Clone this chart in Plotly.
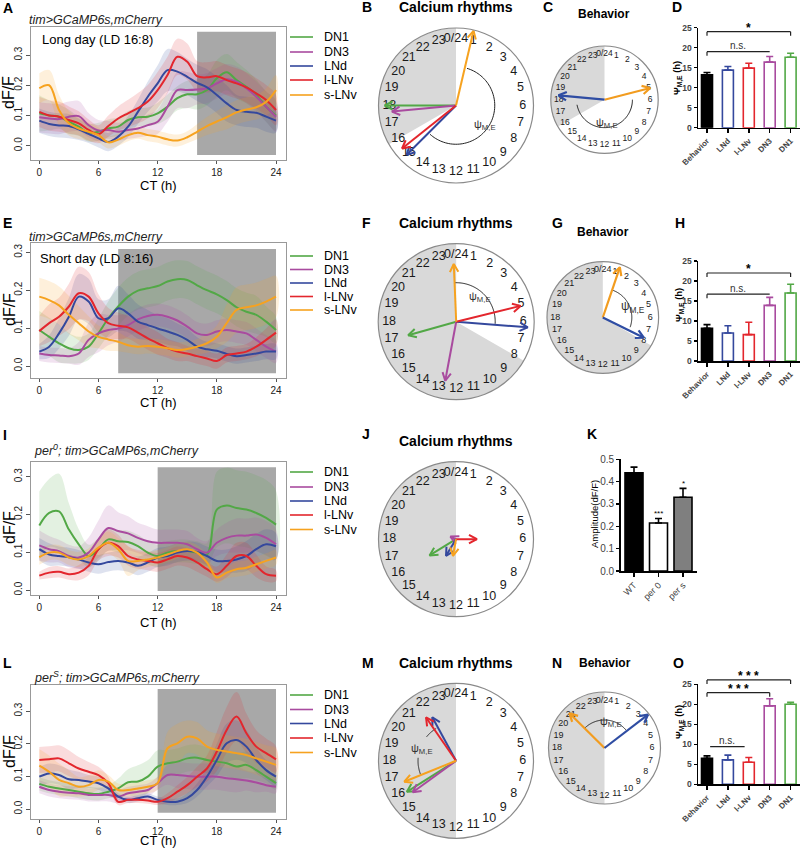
import numpy as np
import plotly.graph_objects as go

W, H = 800, 848
FONT = "Liberation Sans, Arial, sans-serif"

CT = list(range(25))
CELLS = ["DN1", "DN3", "LNd", "l-LNv", "s-LNv"]
CELL_COLORS = ["#52a846", "#a94b9f", "#34489d", "#e3262d", "#f6a21f"]

# ---------------- A : long day ----------------
LONG_DN1 = [0.107, 0.100, 0.096, 0.079, 0.063, 0.043, 0.046, 0.057, 0.063, 0.085, 0.094, 0.096, 0.107, 0.129, 0.157, 0.170, 0.170, 0.184, 0.223, 0.243, 0.217, 0.195, 0.168, 0.129, 0.100]
LONG_DN3 = [0.094, 0.090, 0.088, 0.096, 0.098, 0.068, 0.050, 0.052, 0.046, 0.052, 0.057, 0.068, 0.079, 0.129, 0.184, 0.184, 0.186, 0.190, 0.206, 0.220, 0.212, 0.190, 0.162, 0.129, 0.096]
LONG_LND = [0.083, 0.072, 0.067, 0.065, 0.054, 0.039, 0.024, 0.012, 0.030, 0.063, 0.112, 0.162, 0.206, 0.250, 0.245, 0.228, 0.208, 0.193, 0.168, 0.140, 0.118, 0.112, 0.109, 0.096, 0.083]
LONG_LLNV = [0.112, 0.100, 0.096, 0.085, 0.074, 0.052, 0.038, 0.065, 0.090, 0.107, 0.124, 0.146, 0.184, 0.234, 0.294, 0.278, 0.230, 0.226, 0.230, 0.217, 0.206, 0.193, 0.173, 0.151, 0.118]
LONG_SLNV = [0.190, 0.200, 0.118, 0.074, 0.057, 0.046, 0.035, 0.011, 0.020, 0.035, 0.043, 0.035, 0.030, 0.021, 0.017, 0.028, 0.046, 0.065, 0.080, 0.094, 0.110, 0.120, 0.127, 0.145, 0.184]
LONG_DN1_SEM = [0.06, 0.05, 0.04, 0.04, 0.03, 0.03, 0.03, 0.03, 0.03, 0.03, 0.03, 0.03, 0.035, 0.04, 0.04, 0.045, 0.05, 0.05, 0.06, 0.06, 0.06, 0.055, 0.05, 0.05, 0.05]
LONG_DN3_SEM = [0.05, 0.05, 0.05, 0.05, 0.05, 0.04, 0.035, 0.03, 0.03, 0.03, 0.03, 0.035, 0.04, 0.05, 0.06, 0.06, 0.05, 0.05, 0.05, 0.05, 0.05, 0.05, 0.05, 0.05, 0.05]
LONG_LND_SEM = [0.04, 0.04, 0.04, 0.04, 0.035, 0.03, 0.03, 0.03, 0.03, 0.035, 0.04, 0.05, 0.06, 0.07, 0.065, 0.06, 0.06, 0.06, 0.06, 0.06, 0.05, 0.05, 0.05, 0.05, 0.04]
LONG_LLNV_SEM = [0.05, 0.05, 0.05, 0.045, 0.04, 0.035, 0.03, 0.035, 0.04, 0.045, 0.05, 0.055, 0.06, 0.06, 0.06, 0.06, 0.05, 0.05, 0.05, 0.05, 0.05, 0.05, 0.05, 0.05, 0.05]
LONG_SLNV_SEM = [0.05, 0.05, 0.05, 0.04, 0.035, 0.03, 0.025, 0.02, 0.02, 0.02, 0.02, 0.02, 0.02, 0.02, 0.02, 0.02, 0.025, 0.03, 0.035, 0.04, 0.04, 0.04, 0.04, 0.045, 0.05]

# ---------------- E : short day ----------------
SHORT_DN1 = [0.095, 0.077, 0.060, 0.047, 0.042, 0.051, 0.086, 0.126, 0.157, 0.183, 0.199, 0.205, 0.211, 0.223, 0.229, 0.227, 0.213, 0.200, 0.189, 0.174, 0.155, 0.143, 0.135, 0.117, 0.095]
SHORT_DN3 = [0.033, 0.029, 0.028, 0.026, 0.033, 0.069, 0.086, 0.095, 0.099, 0.108, 0.123, 0.132, 0.135, 0.130, 0.120, 0.104, 0.086, 0.082, 0.091, 0.095, 0.091, 0.086, 0.069, 0.051, 0.038]
SHORT_LND = [0.038, 0.051, 0.086, 0.130, 0.183, 0.170, 0.126, 0.126, 0.152, 0.139, 0.117, 0.108, 0.099, 0.091, 0.082, 0.069, 0.051, 0.044, 0.040, 0.032, 0.026, 0.029, 0.033, 0.038, 0.038]
SHORT_LLNV = [0.092, 0.113, 0.130, 0.157, 0.192, 0.183, 0.139, 0.113, 0.106, 0.102, 0.088, 0.073, 0.060, 0.047, 0.038, 0.033, 0.026, 0.020, 0.013, 0.029, 0.033, 0.038, 0.051, 0.069, 0.088]
SHORT_SLNV = [0.183, 0.174, 0.160, 0.135, 0.113, 0.091, 0.077, 0.070, 0.064, 0.055, 0.051, 0.053, 0.051, 0.047, 0.042, 0.045, 0.051, 0.060, 0.077, 0.113, 0.148, 0.155, 0.160, 0.170, 0.183]
SHORT_DN1_SEM = [0.05, 0.05, 0.05, 0.04, 0.035, 0.035, 0.04, 0.045, 0.05, 0.05, 0.05, 0.05, 0.05, 0.05, 0.05, 0.05, 0.05, 0.05, 0.05, 0.05, 0.05, 0.05, 0.05, 0.04, 0.035]
SHORT_DN3_SEM = [0.02, 0.02, 0.02, 0.02, 0.03, 0.045, 0.05, 0.04, 0.035, 0.03, 0.03, 0.03, 0.03, 0.03, 0.03, 0.03, 0.03, 0.03, 0.03, 0.03, 0.03, 0.03, 0.03, 0.03, 0.03]
SHORT_LND_SEM = [0.02, 0.03, 0.04, 0.05, 0.06, 0.06, 0.05, 0.05, 0.06, 0.05, 0.045, 0.04, 0.035, 0.035, 0.03, 0.03, 0.025, 0.02, 0.02, 0.02, 0.02, 0.02, 0.02, 0.02, 0.02]
SHORT_LLNV_SEM = [0.04, 0.05, 0.05, 0.06, 0.07, 0.065, 0.05, 0.04, 0.035, 0.03, 0.03, 0.03, 0.03, 0.025, 0.025, 0.02, 0.02, 0.02, 0.02, 0.02, 0.02, 0.02, 0.025, 0.03, 0.035]
SHORT_SLNV_SEM = [0.05, 0.05, 0.05, 0.05, 0.045, 0.04, 0.03, 0.03, 0.025, 0.02, 0.02, 0.02, 0.02, 0.02, 0.02, 0.02, 0.02, 0.025, 0.03, 0.05, 0.06, 0.06, 0.06, 0.06, 0.055]

# ---------------- I : per0 ----------------
PER0_DN1 = [0.171, 0.204, 0.208, 0.160, 0.121, 0.090, 0.108, 0.134, 0.129, 0.127, 0.116, 0.099, 0.090, 0.099, 0.103, 0.103, 0.099, 0.094, 0.213, 0.224, 0.217, 0.213, 0.204, 0.191, 0.173]
PER0_DN3 = [0.118, 0.108, 0.103, 0.090, 0.086, 0.099, 0.134, 0.164, 0.156, 0.150, 0.138, 0.129, 0.125, 0.125, 0.125, 0.121, 0.108, 0.099, 0.125, 0.138, 0.144, 0.144, 0.147, 0.138, 0.121]
PER0_LND = [0.108, 0.094, 0.090, 0.087, 0.081, 0.073, 0.068, 0.074, 0.077, 0.073, 0.064, 0.073, 0.086, 0.090, 0.099, 0.103, 0.101, 0.090, 0.077, 0.077, 0.081, 0.090, 0.108, 0.121, 0.116]
PER0_LLNV = [0.038, 0.046, 0.048, 0.042, 0.046, 0.064, 0.108, 0.125, 0.116, 0.090, 0.081, 0.077, 0.073, 0.081, 0.090, 0.086, 0.073, 0.055, 0.042, 0.064, 0.090, 0.090, 0.064, 0.042, 0.038]
PER0_SLNV = [0.087, 0.099, 0.099, 0.086, 0.081, 0.090, 0.112, 0.125, 0.108, 0.077, 0.077, 0.081, 0.086, 0.094, 0.103, 0.108, 0.099, 0.073, 0.033, 0.046, 0.055, 0.059, 0.068, 0.077, 0.086]
PER0_DN1_SEM = [0.09, 0.09, 0.10, 0.07, 0.04, 0.03, 0.03, 0.03, 0.03, 0.03, 0.03, 0.03, 0.03, 0.03, 0.03, 0.03, 0.03, 0.03, 0.10, 0.10, 0.10, 0.10, 0.10, 0.10, 0.09]
PER0_DN3_SEM = [0.04, 0.035, 0.03, 0.03, 0.03, 0.04, 0.05, 0.06, 0.05, 0.045, 0.04, 0.04, 0.035, 0.035, 0.035, 0.035, 0.03, 0.03, 0.035, 0.04, 0.045, 0.045, 0.045, 0.045, 0.04]
PER0_LND_SEM = [0.03, 0.03, 0.025, 0.025, 0.025, 0.025, 0.025, 0.025, 0.025, 0.025, 0.025, 0.025, 0.025, 0.025, 0.025, 0.025, 0.025, 0.025, 0.03, 0.03, 0.035, 0.04, 0.04, 0.04, 0.035]
PER0_LLNV_SEM = [0.01, 0.015, 0.015, 0.015, 0.02, 0.025, 0.03, 0.035, 0.03, 0.025, 0.025, 0.025, 0.025, 0.025, 0.025, 0.025, 0.025, 0.02, 0.02, 0.03, 0.035, 0.035, 0.03, 0.02, 0.015]
PER0_SLNV_SEM = [0.02, 0.02, 0.02, 0.02, 0.02, 0.02, 0.025, 0.03, 0.03, 0.04, 0.025, 0.02, 0.02, 0.02, 0.02, 0.02, 0.02, 0.02, 0.015, 0.015, 0.02, 0.02, 0.02, 0.02, 0.02]

# ---------------- L : perS ----------------
PERS_DN1 = [0.077, 0.068, 0.063, 0.058, 0.053, 0.048, 0.046, 0.053, 0.063, 0.082, 0.084, 0.099, 0.130, 0.140, 0.145, 0.155, 0.157, 0.150, 0.145, 0.140, 0.130, 0.135, 0.119, 0.099, 0.079]
PERS_DN3 = [0.068, 0.058, 0.053, 0.050, 0.048, 0.043, 0.043, 0.043, 0.038, 0.048, 0.053, 0.058, 0.079, 0.104, 0.104, 0.101, 0.099, 0.099, 0.099, 0.094, 0.091, 0.087, 0.081, 0.073, 0.068]
PERS_LND = [0.099, 0.109, 0.104, 0.091, 0.089, 0.084, 0.079, 0.063, 0.038, 0.028, 0.033, 0.038, 0.028, 0.022, 0.022, 0.033, 0.058, 0.099, 0.150, 0.201, 0.211, 0.191, 0.150, 0.119, 0.099]
PERS_LLNV = [0.150, 0.152, 0.155, 0.140, 0.124, 0.114, 0.104, 0.079, 0.022, 0.028, 0.028, 0.026, 0.022, 0.033, 0.053, 0.073, 0.099, 0.124, 0.176, 0.242, 0.283, 0.232, 0.191, 0.171, 0.152]
PERS_SLNV = [0.133, 0.114, 0.089, 0.079, 0.068, 0.073, 0.089, 0.084, 0.058, 0.058, 0.063, 0.068, 0.079, 0.186, 0.201, 0.221, 0.216, 0.191, 0.181, 0.176, 0.171, 0.165, 0.155, 0.145, 0.135]
PERS_DN1_SEM = [0.02, 0.02, 0.02, 0.02, 0.02, 0.02, 0.02, 0.02, 0.03, 0.04, 0.05, 0.05, 0.05, 0.04, 0.04, 0.04, 0.04, 0.04, 0.04, 0.04, 0.04, 0.04, 0.03, 0.02, 0.02]
PERS_DN3_SEM = [0.02, 0.02, 0.02, 0.02, 0.02, 0.02, 0.02, 0.02, 0.02, 0.02, 0.02, 0.02, 0.02, 0.03, 0.04, 0.04, 0.04, 0.04, 0.04, 0.04, 0.04, 0.03, 0.03, 0.02, 0.02]
PERS_LND_SEM = [0.03, 0.03, 0.03, 0.03, 0.025, 0.02, 0.02, 0.02, 0.01, 0.01, 0.01, 0.01, 0.01, 0.01, 0.01, 0.015, 0.02, 0.03, 0.05, 0.06, 0.06, 0.05, 0.04, 0.03, 0.03]
PERS_LLNV_SEM = [0.04, 0.04, 0.04, 0.04, 0.035, 0.03, 0.025, 0.02, 0.01, 0.01, 0.01, 0.01, 0.01, 0.015, 0.02, 0.025, 0.03, 0.04, 0.06, 0.07, 0.075, 0.06, 0.05, 0.045, 0.04]
PERS_SLNV_SEM = [0.05, 0.05, 0.05, 0.04, 0.03, 0.03, 0.03, 0.02, 0.02, 0.02, 0.02, 0.02, 0.02, 0.05, 0.06, 0.05, 0.05, 0.05, 0.05, 0.05, 0.05, 0.05, 0.05, 0.05, 0.05]

# ---------------- circular phase plots (hours, vector length) ----------------
B_PHASE = {"DN1": 18.0, "DN3": 17.64, "LNd": 15.0, "l-LNv": 15.43, "s-LNv": 0.88}
B_LEN = {"DN1": 0.92, "DN3": 0.83, "LNd": 0.90, "l-LNv": 0.89, "s-LNv": 0.99}
B_DOTS = {"DN1": [20.0, 18.25, 17.0, 17.05], "DN3": [20.9, 20.03, 15.47, 15.2, 15.3],
          "LNd": [17.95, 17.13, 14.2, 13.9, 13.8], "l-LNv": [18.8, 17.27, 13.5, 12.5],
          "s-LNv": [0.33, 0.92, 0.95, 1.64]}
B_ARC = [(1.1, 14.8)]

F_PHASE = {"DN1": 16.95, "DN3": 12.7, "LNd": 6.3, "l-LNv": 5.08, "s-LNv": 23.84}
F_LEN = {"DN1": 0.64, "DN3": 0.77, "LNd": 0.92, "l-LNv": 0.85, "s-LNv": 0.74}
F_DOTS = {"DN1": [23.15, 19.56, 18.0, 16.27, 13.38, 12.9], "DN3": [19.4, 12.2, 12.05, 11.9, 10.07],
          "LNd": [4.2, 5.0, 5.6, 6.3, 8.8, 8.5], "l-LNv": [2.27, 4.0, 4.7, 6.85, 9.06],
          "s-LNv": [22.84, 1.0, 1.65, 2.13, 18.1]}
F_ARC = [(23.9, 6.2)]

J_PHASE = {"DN1": 15.9, "DN3": 19.7, "LNd": 14.07, "l-LNv": 6.0, "s-LNv": 12.68}
J_LEN = {"DN1": 0.40, "DN3": 0.08, "LNd": 0.25, "l-LNv": 0.27, "s-LNv": 0.22}
J_DOTS = {"DN1": [19.46, 8.47, 13.2], "DN3": [23.7, 0.49, 16.37, 10.24, 13.0],
          "LNd": [22.4, 9.5, 12.8, 12.6], "l-LNv": [21.7, 20.8, 7.36, 7.6, 8.9],
          "s-LNv": [2.23, 19.08, 11.8, 11.3]}

M_PHASE = {"DN1": 15.85, "DN3": 15.6, "LNd": 22.1, "l-LNv": 21.69, "s-LNv": 16.53}
M_LEN = {"DN1": 0.75, "DN3": 0.69, "LNd": 0.64, "l-LNv": 0.68, "s-LNv": 0.72}
M_DOTS = {"DN1": [19.3, 19.4, 19.2, 18.3, 14.5, 14.4, 11.4], "DN3": [17.4, 17.3, 15.0, 14.8, 10.3],
          "LNd": [22.93, 22.1, 21.5, 20.6, 18.4, 1.5, 2.2, 5.7], "l-LNv": [22.9, 1.9, 3.2, 19.3],
          "s-LNv": [20.1, 20.2, 18.7, 13.8, 13.5]}
M_ARC = [(16.6, 18.3), (20.6, 21.9)]

# behaviour: morning (orange) / evening (blue) peaks
BEH_COLORS = {"M": "#f29c1f", "E": "#2f4da3"}
C_PHASE = {"M": 5.04, "E": 18.36}
C_LEN = {"M": 0.88, "E": 0.86}
C_DOTS = {"M": [2.3, 3.0, 3.6, 4.3, 4.95, 5.6, 5.9, 6.8, 9.4, 10.7],
          "E": [21.9, 22.3, 22.7, 18.9, 18.7, 18.4, 18.0, 16.8, 16.2]}
C_ARC = [(6.0, 17.3)]

G_PHASE = {"M": 1.25, "E": 7.75}
G_LEN = {"M": 0.95, "E": 0.82}
G_DOTS = {"M": [0.31, 1.27, 2.3, 3.2], "E": [3.9, 5.2, 5.7, 7.3, 9.4, 10.9, 10.6]}
G_ARC = [(1.3, 7.3)]

N_PHASE = {"M": 20.98, "E": 3.5}
N_LEN = {"M": 0.88, "E": 0.98}
N_DOTS = {"M": [23.3, 0.1, 21.8, 20.8, 19.2, 19.3], "E": [2.2, 2.95, 3.2, 3.35, 3.5, 3.9, 5.7]}
N_ARC = [(20.9, 3.4)]

# ---------------- bar charts ----------------
PSI_CATS = ["Behavior", "LNd", "l-LNv", "DN3", "DN1"]
PSI_FILL = ["black", "white", "white", "white", "white"]
PSI_EDGE = ["black", "#34489d", "#e3262d", "#a94b9f", "#52a846"]
D_PSI = [13.2, 14.4, 14.9, 16.4, 17.6]
D_SEM = [0.6, 0.9, 1.2, 1.4, 1.0]
H_PSI = [8.2, 7.0, 6.6, 13.9, 17.0]
H_SEM = [0.9, 1.8, 3.1, 2.0, 2.2]
O_PSI = [6.5, 6.1, 5.5, 19.6, 20.0]
O_SEM = [0.6, 1.2, 1.2, 1.8, 0.5]
D_SIG = [(0, 4, 24.0, "*", True), (0, 3, 19.0, "n.s.", False)]
H_SIG = [(0, 4, 22.0, "*", True), (0, 3, 16.7, "n.s.", False)]
O_SIG = [(0, 4, 26.1, "* * *", True), (0, 3, 22.9, "* * *", True), (0.15, 1.8, 9.4, "n.s.", None)]

K_CATS = ["WT", "per 0", "per s"]
K_AMP = [0.44, 0.215, 0.33]
K_SEM = [0.025, 0.02, 0.04]
K_FILL = ["black", "white", "#7f7f7f"]
K_STARS = ["", "***", "*"]

# =====================================================================
fig = go.Figure()
layout = dict(width=W, height=H, margin=dict(l=0, r=0, t=0, b=0, pad=0), paper_bgcolor="white",
              plot_bgcolor="white", showlegend=False, font=dict(family=FONT), template="none",
              barmode="overlay")
shapes, annotations = [], []
n_ax = [0]
n_pol = [0]


def rgba(hexc, a):
    h = hexc.lstrip("#")
    return "rgba(%d,%d,%d,%.2f)" % (int(h[0:2], 16), int(h[2:4], 16), int(h[4:6], 16), a)


def text(t, x, y, size=12, bold=False, italic=False, xanchor="left", yanchor="middle", angle=0, color="black"):
    annotations.append(dict(text=t, x=x / W, y=1 - y / H, xref="paper", yref="paper", showarrow=False,
                            xanchor=xanchor, yanchor=yanchor, textangle=angle, borderpad=0,
                            font=dict(family=FONT, size=size, color=color,
                                      weight="bold" if bold else "normal",
                                      style="italic" if italic else "normal")))


def pline(x0, y0, x1, y1, color="black", width=1):
    shapes.append(dict(type="line", xref="paper", yref="paper", x0=x0 / W, x1=x1 / W,
                       y0=1 - y0 / H, y1=1 - y1 / H, line=dict(color=color, width=width)))


def new_axes(x0, x1, y0, y1, xr, yr, xo, yo):
    n_ax[0] += 1
    n = n_ax[0]
    sfx = "" if n == 1 else str(n)
    layout["xaxis" + sfx] = dict(domain=[x0 / W, x1 / W], range=xr, anchor="y" + sfx, automargin=False, **xo)
    layout["yaxis" + sfx] = dict(domain=[1 - y1 / H, 1 - y0 / H], range=yr, anchor="x" + sfx, automargin=False, **yo)
    return "x" + sfx, "y" + sfx


# ---------------- time series panels ----------------
X0_PX, X24_PX = 39.3, 276.0


def ts_panel(series, sems, frame, zero_px, tick_px, shade_px, night_start):
    x0, y0, x1, y1 = frame
    yppu = (zero_px - tick_px) / 0.3
    to_y = lambda p: (zero_px - p) / yppu
    xppu = (X24_PX - X0_PX) / 24
    xr = [(x0 - X0_PX) / xppu, (x1 - X0_PX) / xppu]
    yr = [to_y(y1), to_y(y0)]
    tick = dict(family=FONT, size=10, color="#222")
    xo = dict(tickvals=[0, 6, 12, 18, 24], ticks="outside", ticklen=3, tickcolor="#555", showline=True,
              linecolor="#999", linewidth=1, mirror=True, showgrid=False, zeroline=False, tickfont=tick)
    yo = dict(tickvals=[0, 0.1, 0.2, 0.3], ticktext=["0.0", "0.1", "0.2", "0.3"], tickangle=-90,
              ticks="outside", ticklen=4, tickcolor="#555", showline=True, linecolor="#999", linewidth=1,
              mirror=True, showgrid=False, zeroline=False, tickfont=tick)
    xs, ys = new_axes(x0, x1, y0, y1, xr, yr, xo, yo)
    shapes.append(dict(type="rect", xref=xs, yref=ys, x0=night_start, x1=24, y0=to_y(shade_px[1]),
                       y1=to_y(shade_px[0]), fillcolor="#a8a8a8", line=dict(width=0), layer="below"))
    for cell, col in zip(CELLS, CELL_COLORS):
        m = np.array(series[cell])
        s = np.array(sems[cell])
        fig.add_trace(go.Scatter(x=CT + CT[::-1], y=list(m + s) + list((m - s)[::-1]), fill="toself",
                                 fillcolor=rgba(col, 0.16), line=dict(width=0, shape="spline"),
                                 mode="lines", xaxis=xs, yaxis=ys, hoverinfo="skip"))
    for cell, col in zip(CELLS, CELL_COLORS):
        fig.add_trace(go.Scatter(x=CT, y=series[cell], mode="lines", name=cell,
                                 line=dict(color=col, width=2, shape="spline", smoothing=1),
                                 xaxis=xs, yaxis=ys))


def legend_block(ys_px):
    for cell, col, yy in zip(CELLS, CELL_COLORS, ys_px):
        pline(290, yy, 313, yy, color=col, width=1.6)
        text(cell, 323, yy, size=12.5)


# ---------------- polar clocks ----------------
def new_polar(cx, cy, r):
    n_pol[0] += 1
    key = "polar" if n_pol[0] == 1 else "polar%d" % n_pol[0]
    layout[key] = dict(domain=dict(x=[(cx - r) / W, (cx + r) / W], y=[1 - (cy + r) / H, 1 - (cy - r) / H]),
                       bgcolor="white",
                       angularaxis=dict(rotation=90, direction="clockwise", showticklabels=False, ticks="",
                                        showgrid=False, showline=True, linecolor="#8a8a8a", linewidth=1.2),
                       radialaxis=dict(visible=False, range=[0, 1], showgrid=False))
    return key


def clock(key, night, font_size, label_r):
    s, e = night
    fig.add_trace(go.Barpolar(r=[1], theta=[(s + e) / 2 * 15], width=[(e - s) * 15], subplot=key,
                              marker=dict(color="#d9d9d9", line=dict(width=0)), hoverinfo="skip"))
    labels = ["0/24"] + [str(h) for h in range(1, 24)]
    fig.add_trace(go.Scatterpolar(r=[label_r] * 24, theta=[h * 15 for h in range(24)], mode="text",
                                  text=labels, subplot=key, hoverinfo="skip",
                                  textfont=dict(family=FONT, size=font_size, color="#1a1a1a")))


def to_pol(p):
    return float(np.hypot(p[0], p[1])), float(np.degrees(np.arctan2(p[0], p[1])) % 360)


def arrow(key, phase, length, color, head, width=2):
    th = np.radians(phase * 15)
    tip = np.array([length * np.sin(th), length * np.cos(th)])
    d = tip / np.linalg.norm(tip)
    rs, ts = [0, length, None], [phase * 15, phase * 15, None]
    side = []
    for ang in (28, -28):
        a = np.radians(ang)
        rot = np.array([d[0] * np.cos(a) - d[1] * np.sin(a), d[0] * np.sin(a) + d[1] * np.cos(a)])
        side.append(to_pol(tip - head * rot))
    rs += [side[0][0], length, side[1][0]]
    ts += [side[0][1], phase * 15, side[1][1]]
    fig.add_trace(go.Scatterpolar(r=rs, theta=ts, mode="lines", subplot=key, hoverinfo="skip",
                                  line=dict(color=color, width=width)))


def arcs(key, spans, r):
    for a, b in spans:
        if b < a:
            b += 24
        th = np.linspace(a * 15, b * 15, 80)
        fig.add_trace(go.Scatterpolar(r=[r] * len(th), theta=th, mode="lines", subplot=key,
                                      hoverinfo="skip", line=dict(color="#222", width=1)))


def dots(key, hours, color, symbol="circle", size=5.5):
    fig.add_trace(go.Scatterpolar(r=[1.045] * len(hours), theta=[h * 15 for h in hours], mode="markers",
                                  subplot=key, cliponaxis=False, hoverinfo="skip",
                                  marker=dict(color=color, size=size, symbol=symbol, line=dict(width=0))))


def calcium_clock(cx, cy, r, night, phases, lens, dts, arc_spans, arc_r):
    key = new_polar(cx, cy, r)
    clock(key, night, 12.5, 0.86)
    if arc_spans:
        arcs(key, arc_spans, arc_r)
    for cell, col in zip(CELLS, CELL_COLORS):
        dots(key, dts[cell], col)
    for cell, col in zip(CELLS, CELL_COLORS):
        arrow(key, phases[cell], lens[cell], col, head=9 / r)


def behavior_clock(cx, cy, r, night, phases, lens, dts, arc_spans, arc_r, fsize):
    key = new_polar(cx, cy, r)
    clock(key, night, fsize, 0.85)
    arcs(key, arc_spans, arc_r)
    for k in ("M", "E"):
        col = BEH_COLORS[k]
        dots(key, dts[k], rgba(col, 0.35), "circle", 9)
        dots(key, dts[k], col, "asterisk-open", 6)
        arrow(key, phases[k], lens[k], col, head=9 / r, width=2.2)


# ---------------- bar panels ----------------
def bar_panel(x0px, x1px, c0px, sp_px, bw_px, zero_px, top_px, ymax, cats, vals, sems, fills, edges,
              err_cols, ytick_step, ytick_fmt, bold, xtick_size, ytick_size):
    xr = [(x0px - c0px) / sp_px, (x1px - c0px) / sp_px]
    wt = "bold" if bold else "normal"
    xo = dict(tickvals=list(range(len(cats))), ticktext=cats, tickangle=-45, ticks="outside", ticklen=4,
              tickwidth=1.5, tickcolor="black", showline=True, linecolor="black", linewidth=1.5,
              showgrid=False, zeroline=False, tickfont=dict(family=FONT, size=xtick_size, weight=wt))
    tv = [float(v) for v in np.round(np.arange(0, ymax + 1e-9, ytick_step), 3)]
    yo = dict(tickvals=tv, ticktext=[ytick_fmt % v for v in tv], ticks="outside", ticklen=3, tickwidth=1.5,
              tickcolor="black", showline=True, linecolor="black", linewidth=1.5, showgrid=False,
              zeroline=False, tickfont=dict(family=FONT, size=ytick_size, weight=wt))
    xs, ys = new_axes(x0px, x1px, top_px, zero_px, xr, [0, ymax], xo, yo)
    for i, (v, s) in enumerate(zip(vals, sems)):
        fig.add_trace(go.Bar(x=[i], y=[v], width=bw_px / sp_px, xaxis=xs, yaxis=ys,
                             marker=dict(color=fills[i], line=dict(color=edges[i], width=1.6)),
                             error_y=dict(type="data", symmetric=False, array=[s], arrayminus=[0],
                                          color=err_cols[i], thickness=1.6, width=3.5)))
    to_px = lambda xv, yv: (c0px + xv * sp_px, zero_px - yv / ymax * (zero_px - top_px))
    return to_px


def sig_brackets(to_px, sigs):
    for a, b, yv, lab, both in sigs:
        xa, yy = to_px(a, yv)
        xb, _ = to_px(b, yv)
        pline(xa, yy, xb, yy, color="#222", width=1.2)
        if both is not None:
            pline(xa, yy, xa, yy + 4, color="#222", width=1.2)
            if both:
                pline(xb, yy, xb, yy + 4, color="#222", width=1.2)
        if lab == "n.s.":
            text(lab, (xa + xb) / 2, yy - 6, size=10, xanchor="center", color="#333")
        else:
            text(lab, (xa + xb) / 2, yy - 4, size=12, bold=True, xanchor="center")


# ======================= ROW 1 =======================
ts_panel({"DN1": LONG_DN1, "DN3": LONG_DN3, "LNd": LONG_LND, "l-LNv": LONG_LLNV, "s-LNv": LONG_SLNV},
         {"DN1": LONG_DN1_SEM, "DN3": LONG_DN3_SEM, "LNd": LONG_LND_SEM, "l-LNv": LONG_LLNV_SEM,
          "s-LNv": LONG_SLNV_SEM},
         (30.7, 26.7, 286, 160), 145.7, 55, (31.7, 155), 16)
text("A", 2, 8, 14, bold=True)
text("tim>GCaMP6s,mCherry", 28, 20, 12.5, italic=True, color="#222")
text("Long day (LD 16:8)", 41, 40, 13)
text("dF/F", 9, 93, 16, xanchor="center", angle=-90)
text("CT (h)", 158, 185, 13, xanchor="center")
legend_block([37, 52, 66, 80, 95])

text("B", 367, 7, 14, bold=True, xanchor="center")
text("Calcium rhythms", 456, 7, 14, bold=True, xanchor="center")
calcium_clock(456, 105.5, 77.5, (16, 24), B_PHASE, B_LEN, B_DOTS, B_ARC, 0.5)
text("\u03c8<sub>M,E</sub>", 485, 125, 11, xanchor="center", color="#333")

text("C", 548, 7, 14, bold=True, xanchor="center")
text("Behavior", 604, 14, 12, bold=True, xanchor="center")
behavior_clock(604.5, 99.7, 53.7, (16, 24), C_PHASE, C_LEN, C_DOTS, C_ARC, 0.52, 8.5)
text("\u03c8<sub>M,E</sub>", 607, 123, 11, xanchor="center", color="#333")

text("D", 677, 7, 14, bold=True, xanchor="center")
to_px = bar_panel(698, 800, 707, 20.9, 11, 127.7, 27.7, 25, PSI_CATS, D_PSI, D_SEM, PSI_FILL, PSI_EDGE,
                  PSI_EDGE, 5, "%d", True, 8, 8.5)
sig_brackets(to_px, D_SIG)
text("\u03a8<sub>M,E</sub> (h)", 678, 78, 9.5, bold=True, xanchor="center", angle=-90)

# ======================= ROW 2 =======================
ts_panel({"DN1": SHORT_DN1, "DN3": SHORT_DN3, "LNd": SHORT_LND, "l-LNv": SHORT_LLNV, "s-LNv": SHORT_SLNV},
         {"DN1": SHORT_DN1_SEM, "DN3": SHORT_DN3_SEM, "LNd": SHORT_LND_SEM, "l-LNv": SHORT_LLNV_SEM,
          "s-LNv": SHORT_SLNV_SEM},
         (30.7, 243.3, 286, 378.3), 366, 252.3, (249, 373.3), 8)
text("E", 2, 223, 14, bold=True)
text("tim>GCaMP6s,mCherry", 28, 237, 12.5, italic=True, color="#222")
text("Short day (LD 8:16)", 39, 258, 13)
text("dF/F", 9, 310, 16, xanchor="center", angle=-90)
text("CT (h)", 158, 402, 13, xanchor="center")
legend_block([256, 269.5, 283, 296.5, 310])

text("F", 366, 223, 14, bold=True, xanchor="center")
text("Calcium rhythms", 456, 223, 14, bold=True, xanchor="center")
calcium_clock(456.2, 321.7, 78, (8, 24), F_PHASE, F_LEN, F_DOTS, F_ARC, 0.5)
text("\u03c8<sub>M,E</sub>", 480, 297, 11, xanchor="center", color="#333")

text("G", 557, 223, 14, bold=True, xanchor="center")
text("Behavior", 603, 232, 12, bold=True, xanchor="center")
behavior_clock(602.8, 317.5, 55.8, (8, 24), G_PHASE, G_LEN, G_DOTS, G_ARC, 0.52, 9)
text("\u03c8<sub>M,E</sub>", 633, 307, 12, xanchor="center", color="#333")

text("H", 680, 223, 14, bold=True, xanchor="center")
to_px = bar_panel(698, 800, 707, 20.9, 11, 361, 261, 25, PSI_CATS, H_PSI, H_SEM, PSI_FILL, PSI_EDGE,
                  PSI_EDGE, 5, "%d", True, 8, 8.5)
sig_brackets(to_px, H_SIG)
text("\u03a8<sub>M,E</sub> (h)", 679, 305, 9.5, bold=True, xanchor="center", angle=-90)

# ======================= ROW 3 =======================
ts_panel({"DN1": PER0_DN1, "DN3": PER0_DN3, "LNd": PER0_LND, "l-LNv": PER0_LLNV, "s-LNv": PER0_SLNV},
         {"DN1": PER0_DN1_SEM, "DN3": PER0_DN3_SEM, "LNd": PER0_LND_SEM, "l-LNv": PER0_LLNV_SEM,
          "s-LNv": PER0_SLNV_SEM},
         (30.7, 461.7, 286, 595), 590, 476.7, (467.3, 591), 12)
text("I", 2, 435, 14, bold=True)
text("per<sup>0</sup>; tim>GCaMP6s,mCherry", 33, 450, 12.5, italic=True, color="#222")
text("dF/F", 9, 528, 16, xanchor="center", angle=-90)
text("CT (h)", 158, 622, 13, xanchor="center")
legend_block([472, 487, 501, 515, 529.5])

text("J", 366, 434, 14, bold=True, xanchor="center")
text("Calcium rhythms", 456, 441, 14, bold=True, xanchor="center")
calcium_clock(456, 539.2, 77.5, (12, 24), J_PHASE, J_LEN, J_DOTS, None, 0.5)

text("K", 592, 434, 14, bold=True, xanchor="center")
to_px = bar_panel(620.7, 696.7, 634, 24.5, 18, 571, 459.3, 0.5, K_CATS, K_AMP, K_SEM, K_FILL,
                  ["black"] * 3, ["black"] * 3, 0.1, "%.1f", False, 9, 10)
for i, st in enumerate(K_STARS):
    if st:
        xx, yy = to_px(i, K_AMP[i] + K_SEM[i])
        text(st, xx, yy - 5, 8, xanchor="center")
text("Amplitude(dF/F)", 594, 514, 9.5, xanchor="center", angle=-90)

# ======================= ROW 4 =======================
ts_panel({"DN1": PERS_DN1, "DN3": PERS_DN3, "LNd": PERS_LND, "l-LNv": PERS_LLNV, "s-LNv": PERS_SLNV},
         {"DN1": PERS_DN1_SEM, "DN3": PERS_DN3_SEM, "LNd": PERS_LND_SEM, "l-LNv": PERS_LLNV_SEM,
          "s-LNv": PERS_SLNV_SEM},
         (30.7, 685, 286, 819.3), 809, 711, (689, 812.7), 12)
text("L", 2, 663, 14, bold=True)
text("per<sup>S</sup>; tim>GCaMP6s,mCherry", 33, 677, 12.5, italic=True, color="#222")
text("dF/F", 9, 752, 16, xanchor="center", angle=-90)
text("CT (h)", 158, 840.5, 13, xanchor="center")
legend_block([695, 709.5, 723.5, 738, 752.5])

text("M", 368, 663, 14, bold=True, xanchor="center")
text("Calcium rhythms", 456, 663, 14, bold=True, xanchor="center")
calcium_clock(456, 760.8, 77.5, (12, 24), M_PHASE, M_LEN, M_DOTS, M_ARC, 0.49)
text("\u03c8<sub>M,E</sub>", 422, 749, 11, xanchor="center", color="#333")

text("N", 557, 663, 14, bold=True, xanchor="center")
text("Behavior", 605, 663, 12, bold=True, xanchor="center")
behavior_clock(604.5, 748, 56, (12, 24), N_PHASE, N_LEN, N_DOTS, N_ARC, 0.5, 9)
text("\u03c8<sub>M,E</sub>", 611, 722, 11, xanchor="center", color="#333")

text("O", 678, 663, 14, bold=True, xanchor="center")
to_px = bar_panel(698, 800, 707, 20.9, 11, 784.3, 684.3, 25, PSI_CATS, O_PSI, O_SEM, PSI_FILL, PSI_EDGE,
                  PSI_EDGE, 5, "%d", True, 8, 8.5)
sig_brackets(to_px, O_SIG)
text("\u03a8<sub>M,E</sub> (h)", 679, 722, 9.5, bold=True, xanchor="center", angle=-90)

layout["shapes"] = shapes
layout["annotations"] = annotations
fig.update_layout(**layout)
fig.write_html("out.html", config={"displayModeBar": False, "staticPlot": True},
               post_script="document.body.style.margin='0px';document.body.style.padding='0px';")
